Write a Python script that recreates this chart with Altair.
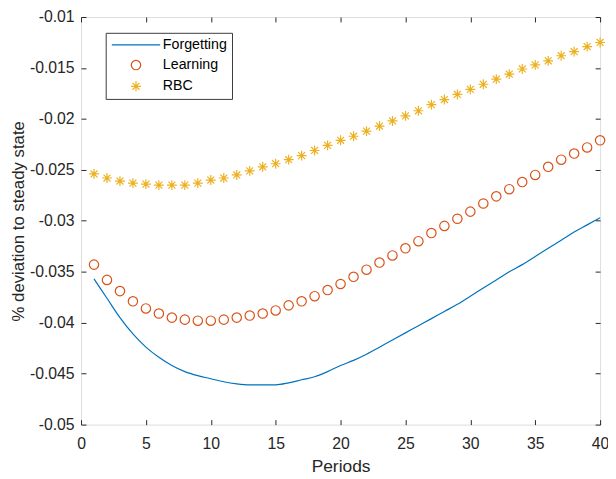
import altair as alt
import pandas as pd

# ---------------- data ----------------
periods = list(range(1, 41))

forgetting = [-0.0357, -0.0376, -0.0395, -0.0411, -0.0424, -0.0434, -0.0442, -0.0448, -0.0452, -0.0455,
              -0.0458, -0.0460, -0.0461, -0.0461, -0.0461, -0.0459, -0.0456, -0.0453, -0.0448, -0.0442,
              -0.0437, -0.0431, -0.0424, -0.0417, -0.0410, -0.0403, -0.0396, -0.0389, -0.0382, -0.0374,
              -0.0366, -0.0358, -0.0350, -0.0343, -0.0335, -0.0327, -0.0319, -0.0311, -0.0304, -0.0297]

learning = [-0.0343, -0.0358, -0.0369, -0.0379, -0.0386, -0.0391, -0.0395, -0.0397, -0.0398, -0.0398,
            -0.0397, -0.0395, -0.0393, -0.0391, -0.0388, -0.0383, -0.0379, -0.0374, -0.0368, -0.0362,
            -0.0355, -0.0348, -0.0341, -0.0334, -0.0327, -0.0320, -0.0312, -0.0305, -0.0298, -0.0291,
            -0.0283, -0.0276, -0.0269, -0.0262, -0.0255, -0.0247, -0.0240, -0.0234, -0.0228, -0.0221]

rbc = [-0.0254, -0.0258, -0.0261, -0.0263, -0.0264, -0.0265, -0.0265, -0.0265, -0.0263, -0.0260,
       -0.0258, -0.0255, -0.0251, -0.0247, -0.0244, -0.0240, -0.0236, -0.0231, -0.0226, -0.0221,
       -0.0217, -0.0212, -0.0207, -0.0202, -0.0197, -0.0192, -0.0186, -0.0181, -0.0176, -0.0171,
       -0.0166, -0.0161, -0.0156, -0.0151, -0.0147, -0.0143, -0.0138, -0.0134, -0.0129, -0.0125]

series_names = ["Forgetting", "Learning", "RBC"]
x_ticks = [0, 5, 10, 15, 20, 25, 30, 35, 40]
y_ticks = [-0.05, -0.045, -0.04, -0.035, -0.03, -0.025, -0.02, -0.015, -0.01]

df = pd.DataFrame({
    "period": periods * 3,
    "value": forgetting + learning + rbc,
    "series": [series_names[0]] * 40 + [series_names[1]] * 40 + [series_names[2]] * 40,
})

# ---------------- styling ----------------
FONT = "Liberation Sans"
AX = "#262626"
colors = ["#0072BD", "#D95319", "#EDB120"]
SYM = 100  # 10 px symbol box
LINE_PATH = "M-4.9,0L4.9,0"
CIRCLE_PATH = "M-0.95,0A0.95,0.95,0,1,1,0.95,0A0.95,0.95,0,1,1,-0.95,0Z"
STAR_PATH = "M-1,0L1,0M0,-1L0,1M-0.7,-0.7L0.7,0.7M-0.7,0.7L0.7,-0.7"

color_scale = alt.Scale(domain=series_names, range=colors)
shape_scale = alt.Scale(domain=series_names, range=[LINE_PATH, CIRCLE_PATH, STAR_PATH])
x_scale = alt.Scale(domain=[0, 40], nice=False, zero=False)
y_scale = alt.Scale(domain=[-0.05, -0.01], nice=False, zero=False)

legend = alt.Legend(
    title=None, orient="none", legendX=25, legendY=16,
    strokeColor="#3a3a3a", fillColor="white", padding=5,
    labelFont=FONT, labelFontSize=14.4, labelColor="#000000",
    symbolOffset=18.5, labelOffset=20,
    symbolSize=SYM, symbolStrokeWidth=1.2, rowPadding=5.5,
)

common_axis = dict(grid=False, domain=False, ticks=True, tickSize=5, offset=-5,
                   tickColor=AX, tickWidth=1, labelFont=FONT, labelFontSize=16,
                   labelColor=AX, titleFont=FONT, titleFontSize=17.6,
                   titleFontWeight="normal", titleColor=AX)

x_bottom = alt.Axis(orient="bottom", values=x_ticks, title="Periods",
                    labelPadding=11, titlePadding=7, labelFlush=False, **common_axis)
y_left = alt.Axis(orient="left", values=y_ticks, title="% deviation to steady state",
                  labelPadding=7, titlePadding=2, labelExpr="'-' + format(-datum.value, '~g')",
                  **{**common_axis, "titleFontSize": 17})
x_top = alt.Axis(orient="top", values=x_ticks, title=None, labels=False, **common_axis)
y_right = alt.Axis(orient="right", values=y_ticks, title=None, labels=False, **common_axis)

line = alt.Chart(df).transform_filter(
    alt.datum.series == "Forgetting"
).mark_line(strokeWidth=1.2, interpolate="monotone").encode(
    x=alt.X("period:Q", scale=x_scale, axis=x_bottom),
    y=alt.Y("value:Q", scale=y_scale, axis=y_left),
    color=alt.Color("series:N", scale=color_scale, legend=legend),
)

pts = alt.Chart(df).transform_filter(
    alt.datum.series != "Forgetting"
).mark_point(filled=False, size=SYM, strokeWidth=1.2, opacity=1).encode(
    x=alt.X("period:Q", scale=x_scale, axis=x_top),
    y=alt.Y("value:Q", scale=y_scale, axis=y_right),
    color=alt.Color("series:N", scale=color_scale, legend=legend),
    shape=alt.Shape("series:N", scale=shape_scale, legend=legend),
)

chart = alt.layer(line, pts).resolve_axis(
    x="independent", y="independent"
).properties(
    width=526, height=413,
    autosize=alt.AutoSizeParams(type="none"),
    padding={"left": 74, "top": 6, "right": 8, "bottom": 52},
).configure_view(
    stroke=AX, strokeWidth=1
).configure(
    background="white", font=FONT
)

chart.save("out.html", embed_options={"renderer": "svg", "actions": False})
